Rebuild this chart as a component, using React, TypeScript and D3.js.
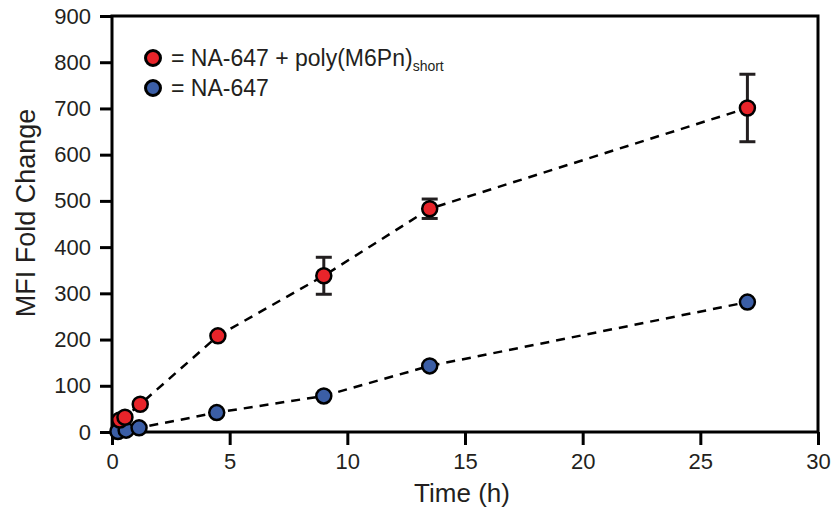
import React, {useRef, useEffect} from 'react';
import * as d3 from 'd3';

// time points (h) and MFI fold change values
const redTime = [0.33, 0.55, 1.2, 4.5, 9, 13.5, 27];
const redMfi = [26, 32, 60, 208, 338, 483, 701];
const redErr = [0, 0, 0, 0, 40, 21, 73];

const blueTime = [0.25, 0.6, 1.15, 4.45, 9, 13.5, 27];
const blueMfi = [1, 4, 9, 42, 78, 143, 281];

const xTicks = [0, 5, 10, 15, 20, 25, 30];
const yTicks = [0, 100, 200, 300, 400, 500, 600, 700, 800, 900];

const RED = '#e8242a';
const BLUE = '#3b5ea6';
const INK = '#231f20';

function App(){
    const canvas = useRef(null)

    useEffect(() => {
        const W = 833, H = 509;
        const left = 112, right = 818, top = 16, bottom = 432;
        const font = 'Arial, "Liberation Sans", Helvetica, sans-serif';

        d3.select(canvas.current).select('svg').remove()
        const svg = d3.select(canvas.current)
                    .append('svg')
                    .attr('width', W)
                    .attr('height', H)
                    .style('position', 'absolute')
                    .style('left', 0)
                    .style('top', 0)
                    .style('background', '#fff')

        const x = d3.scaleLinear().domain([0, 30]).range([left, right])
        const y = d3.scaleLinear().domain([0, 900]).range([bottom, top])

        // frame
        svg.append('rect')
            .attr('x', left).attr('y', top)
            .attr('width', right - left).attr('height', bottom - top)
            .attr('fill', 'none').attr('stroke', '#000').attr('stroke-width', 3)

        // x axis
        const xa = svg.append('g').attr('transform', `translate(0,${bottom})`)
            .call(d3.axisBottom(x).tickValues(xTicks).tickSize(13).tickPadding(8).tickFormat(d3.format('d')))
        xa.select('.domain').remove()
        xa.selectAll('line').attr('stroke', '#000').attr('stroke-width', 3)
        xa.selectAll('text').attr('fill', INK).style('font-family', font).style('font-size', '22px')

        // y axis
        const ya = svg.append('g').attr('transform', `translate(${left},0)`)
            .call(d3.axisLeft(y).tickValues(yTicks).tickSize(12).tickPadding(9).tickFormat(d3.format('d')))
        ya.select('.domain').remove()
        ya.selectAll('line').attr('stroke', '#000').attr('stroke-width', 3)
        ya.selectAll('text').attr('fill', INK).style('font-family', font).style('font-size', '22px')

        // axis titles
        svg.append('text')
            .attr('x', (left + right) / 2 - 3).attr('y', 502)
            .attr('text-anchor', 'middle')
            .attr('fill', INK)
            .style('font-family', font).style('font-size', '26px')
            .text('Time (h)')
        svg.append('text')
            .attr('transform', `translate(35,213) rotate(-90)`)
            .attr('text-anchor', 'middle')
            .attr('fill', INK)
            .style('font-family', font).style('font-size', '27px')
            .text('MFI Fold Change')

        const series = [
            {t: redTime, v: redMfi, c: RED},
            {t: blueTime, v: blueMfi, c: BLUE},
        ]

        // dashed lines
        series.forEach((s) => {
            const pts = s.t.map((t, i) => [x(t), y(s.v[i])] as [number, number])
            svg.append('path')
                .attr('d', d3.line()(pts))
                .attr('fill', 'none')
                .attr('stroke', '#000')
                .attr('stroke-width', 2.5)
                .attr('stroke-dasharray', '9,7')
        })

        // error bars
        redTime.forEach((t, i) => {
            if (!redErr[i]) return
            const cx = x(t)
            const y1 = y(redMfi[i] + redErr[i]), y2 = y(redMfi[i] - redErr[i])
            const g = svg.append('g').attr('stroke', '#231f20').attr('stroke-width', 3)
            g.append('line').attr('x1', cx).attr('x2', cx).attr('y1', y1).attr('y2', y2)
            g.append('line').attr('x1', cx - 8).attr('x2', cx + 8).attr('y1', y1).attr('y2', y1)
            g.append('line').attr('x1', cx - 8).attr('x2', cx + 8).attr('y1', y2).attr('y2', y2)
        })

        // markers (blue first, red on top)
        ;[series[1], series[0]].forEach((s) => {
            svg.append('g').selectAll('circle')
                .data(s.t.map((t, i) => ({t, v: s.v[i]})))
                .enter()
                .append('circle')
                .attr('cx', (d) => x(d.t))
                .attr('cy', (d) => y(d.v))
                .attr('r', 7.5)
                .attr('fill', s.c)
                .attr('stroke', '#000')
                .attr('stroke-width', 2.5)
        })

        // legend
        const legend = [
            {c: RED, y: 58, label: '= NA-647 + poly(M6Pn)', sub: 'short'},
            {c: BLUE, y: 88, label: '= NA-647', sub: ''},
        ]
        legend.forEach((l) => {
            svg.append('circle')
                .attr('cx', 153).attr('cy', l.y).attr('r', 7.5)
                .attr('fill', l.c).attr('stroke', '#000').attr('stroke-width', 3)
            const tx = svg.append('text')
                .attr('x', 171).attr('y', l.y + 8)
                .attr('fill', INK)
                .style('font-family', font).style('font-size', '23px')
            tx.append('tspan').text(l.label)
            if (l.sub) tx.append('tspan').attr('dy', 5).style('font-size', '14px').text(l.sub)
        })
    }, [])

    return (
        <div ref={canvas}>
            {}
        </div>
    )
}

export default App
